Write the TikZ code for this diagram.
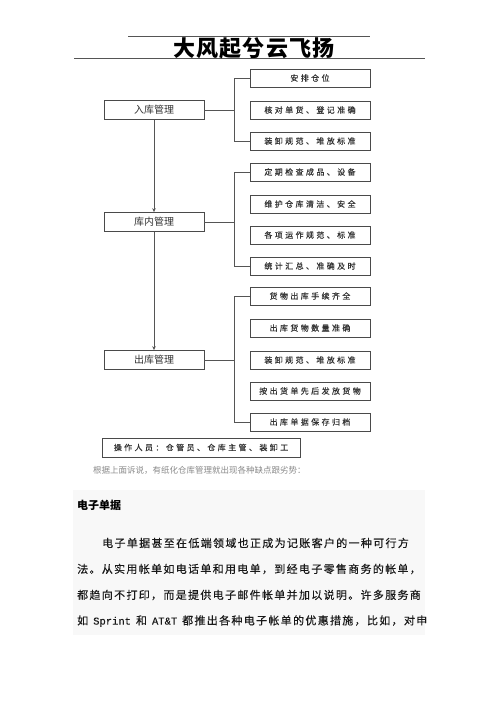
\documentclass[tikz,border=0pt]{standalone}
\usepackage{fontspec}
\setmainfont{Liberation Serif}
\newfontfamily\cjk{Noto Sans CJK SC}
\newfontfamily\cjkbox[LetterSpace=30,FakeBold=0.5]{Noto Sans CJK SC}
\newfontfamily\cjkpara[LetterSpace=12,FakeBold=0.3]{Noto Sans CJK SC}
\newfontfamily\cjktitle[LetterSpace=6]{Noto Sans CJK SC}
\newfontfamily\monof[FakeBold=0.3]{Liberation Mono}
\usetikzlibrary{arrows.meta}
\definecolor{boxc}{HTML}{4A4A4A}
\definecolor{connc}{HTML}{555555}
\definecolor{txtc}{HTML}{333333}
\definecolor{capc}{HTML}{8A8A8A}
\definecolor{bgc}{HTML}{F8F8F8}
\tikzset{
  rbox/.style={draw=boxc, line width=0.8pt, minimum width=120pt, minimum height=18pt, inner sep=0pt,
    font=\cjkbox\fontsize{8}{9}\selectfont, text=txtc},
  lbox/.style={draw=boxc, line width=0.8pt, minimum width=100pt, minimum height=19pt, inner sep=0pt,
    font=\cjk\fontsize{10}{11}\selectfont, text=txtc},
  conn/.style={draw=connc, line width=0.7pt},
  arr/.style={conn, -{Stealth[length=4pt,width=3.5pt]}},
  para/.style={anchor=west, inner sep=0pt, font=\cjkpara\fontsize{11}{12}\selectfont, text=black!90}
}
\begin{document}
\begin{tikzpicture}[x=1pt,y=-1pt]
\useasboundingbox (0,0) rectangle (500,707);
\fill[white] (0,0) rectangle (500,707);
% title
\draw[connc, line width=0.6pt] (128,36) -- (370,36);
\draw[connc, line width=0.6pt] (74,58) -- (425,58);
\node[font=\cjktitle\bfseries\fontsize{22}{24}\selectfont, inner sep=0pt] (title) at (254,48) {大风起兮云飞扬};
% left boxes
\node[lbox] (in) at (154,110) {入库管理};
\node[lbox] (kn) at (154,222) {库内管理};
\node[lbox] (out) at (154,360) {出库管理};
% right boxes: in
\node[rbox] (a1) at (310,78) {安排仓位};
\node[rbox] (a2) at (310,110) {核对单货、登记准确};
\node[rbox] (a3) at (310,141) {装卸规范、堆放标准};
% right boxes: kn
\node[rbox] (b1) at (310,172) {定期检查成品、设备};
\node[rbox] (b2) at (310,204) {维护仓库清洁、安全};
\node[rbox] (b3) at (310,235) {各项运作规范、标准};
\node[rbox] (b4) at (310,266) {统计汇总、准确及时};
% right boxes: out
\node[rbox] (c1) at (310,296) {货物出库手续齐全};
\node[rbox] (c2) at (310,328) {出库货物数量准确};
\node[rbox] (c3) at (310,360) {装卸规范、堆放标准};
\node[rbox] (c4) at (310,391) {按出货单先后发放货物};
\node[rbox] (c5) at (310,422) {出库单据保存归档};
% branch coordinates
\coordinate (ja) at (234,110);
\coordinate (jb) at (234,222);
\coordinate (jc) at (234,360);
% connectors
\draw[conn] (in.east) -- (ja);
\draw[conn] (a1.west) -- (a1.west -| ja) -- (a3.west -| ja) -- (a3.west);
\draw[conn] (kn.east) -- (jb);
\draw[conn] (b1.west) -- (b1.west -| jb) -- (b4.west -| jb) -- (b4.west);
\draw[conn] (out.east) -- (jc);
\draw[conn] (c1.west) -- (c1.west -| jc) -- (c5.west -| jc) -- (c5.west);
\draw[arr] (in.south) -- (kn.north);
\draw[arr] (kn.south) -- (out.north);
% bottom box
\node[rbox, minimum width=198pt, minimum height=19pt] (staff) at (201,447.5) {操作人员：仓管员、仓库主管、装卸工};
% caption
\node[anchor=west, inner sep=0pt, font=\cjk\fontsize{8.5}{9}\selectfont, text=capc] (cap) at (93,470) {根据上面诉说，有纸化仓库管理就出现各种缺点跟劣势：};
% paragraph
\fill[bgc] (73,490) rectangle (425,635);
\node[anchor=west, inner sep=0pt, font=\cjk\bfseries\fontsize{11}{12}\selectfont] (h) at (77,505) {电子单据};
\node[para] (p1) at (102,543) {电子单据甚至在低端领域也正成为记账客户的一种可行方};
\node[para] (p2) at (77,569) {法。从实用帐单如电话单和用电单，到经电子零售商务的帐单，};
\node[para] (p3) at (77,595) {都趋向不打印，而是提供电子邮件帐单并加以说明。许多服务商};
\node[para] (p4) at (77,621) {如\hspace{5pt}{\monof\fontsize{10.5}{12}\selectfont Sprint}\hspace{5pt}和\hspace{5pt}{\monof\fontsize{10.5}{12}\selectfont AT\&T}\hspace{5pt}都推出各种电子帐单的优惠措施，比如，对申};
\end{tikzpicture}
\end{document}
